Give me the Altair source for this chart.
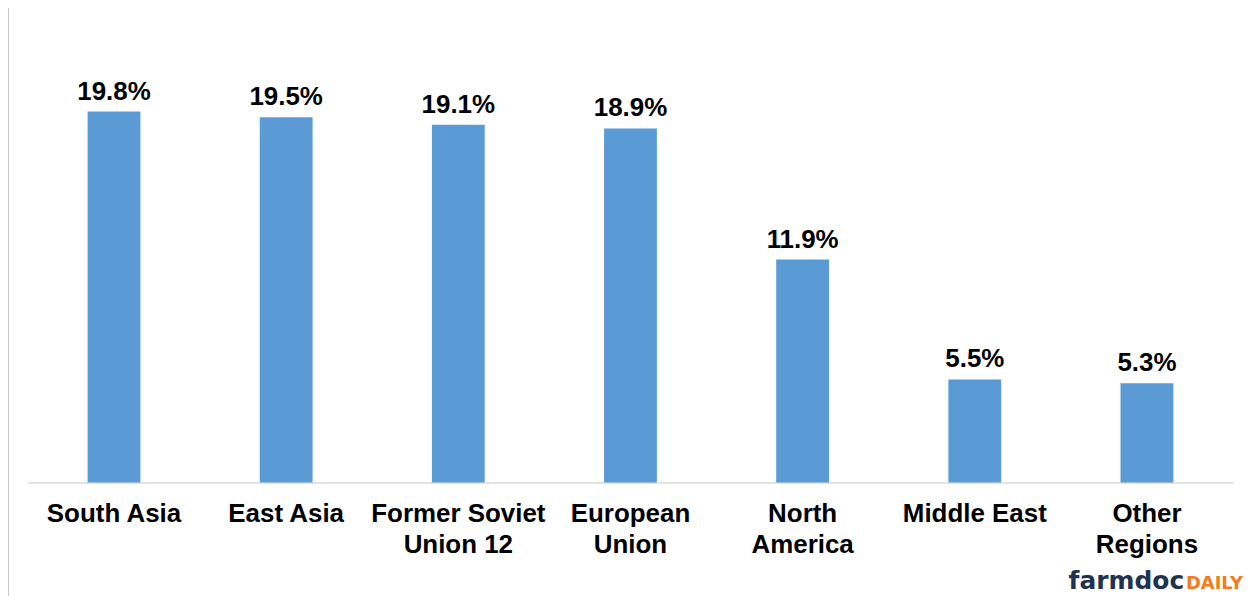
import altair as alt
import pandas as pd

regions = ["South Asia", "East Asia", "Former Soviet|Union 12", "European|Union",
           "North|America", "Middle East", "Other|Regions"]
shares = [19.8, 19.5, 19.1, 18.9, 11.9, 5.5, 5.3]
labels = ["19.8%", "19.5%", "19.1%", "18.9%", "11.9%", "5.5%", "5.3%"]

df = pd.DataFrame({"region": regions, "share": shares, "label": labels})

FONT = "Liberation Sans"

x_enc = alt.X("region:N", sort=None, title=None,
              scale=alt.Scale(paddingInner=0, paddingOuter=0),
              axis=alt.Axis(labelAngle=0, labelFontSize=26, labelFontWeight="bold",
                            labelColor="#000000", labelFont=FONT, ticks=False,
                            domainColor="#d9d9d9", domainWidth=1.5,
                            labelPadding=18, labelLineHeight=31,
                            labelExpr="split(datum.label, '|')"))
y_enc = alt.Y("share:Q", axis=None, scale=alt.Scale(domain=[0, 25.28], nice=False, zero=True))

bars = alt.Chart(df).mark_bar(color="#5b9bd5", size=53).encode(x=x_enc, y=y_enc)

text = alt.Chart(df).mark_text(fontSize=26, fontWeight="bold", font=FONT, color="#000000",
                               baseline="alphabetic", dy=-12).encode(
    x=x_enc, y=y_enc, text="label:N")

frame = alt.Chart(alt.Data(values=[{}])).mark_rule(color="#c8c8c8", strokeWidth=2).encode(
    x=alt.value(-20), y=alt.value(-10), y2=alt.value(600))

logo1 = alt.Chart(alt.Data(values=[{}])).mark_text(
    text="farmdoc", font="DejaVu Sans", fontWeight="bold", fontSize=25, color="#1f3250",
    align="right", baseline="alphabetic").encode(x=alt.value(1160), y=alt.value(582))
logo2 = alt.Chart(alt.Data(values=[{}])).mark_text(
    text="DAILY", font="DejaVu Sans", fontWeight="bold", fontSize=18, color="#f47b20",
    align="right", baseline="alphabetic").encode(x=alt.value(1219), y=alt.value(582))

chart = alt.layer(frame, bars, text, logo1, logo2).properties(
    width=1209, height=475,
    padding={"left": 20, "top": 0, "right": 12, "bottom": 114},
    autosize=alt.AutoSizeParams(type="none"),
    background="white",
).configure_view(stroke=None)

chart.save("out.html", embed_options={"renderer": "svg", "actions": False})
